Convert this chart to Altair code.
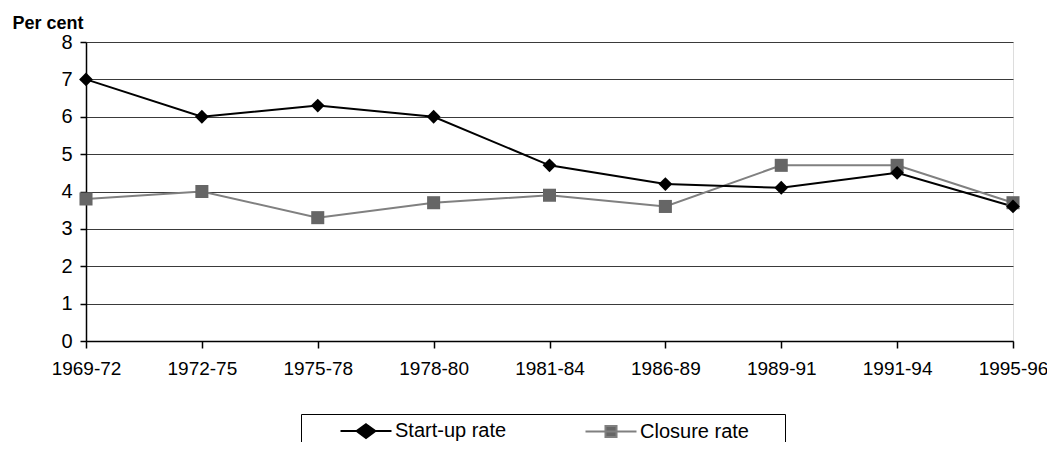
import altair as alt
import pandas as pd

periods = ["1969-72", "1972-75", "1975-78", "1978-80", "1981-84",
           "1986-89", "1989-91", "1991-94", "1995-96"]
startup = [7.0, 6.0, 6.3, 6.0, 4.7, 4.2, 4.1, 4.5, 3.6]
closure = [3.8, 4.0, 3.3, 3.7, 3.9, 3.6, 4.7, 4.7, 3.7]
series_names = ["Start-up rate", "Closure rate"]
y_ticks = [0, 1, 2, 3, 4, 5, 6, 7, 8]

rows = []
for p, s, c in zip(periods, startup, closure):
    rows.append({"period": p, "series": series_names[0], "value": s})
    rows.append({"period": p, "series": series_names[1], "value": c})
df = pd.DataFrame(rows)

FONT = "Liberation Sans"

x_enc = alt.X("period:N", sort=periods,
              scale=alt.Scale(type="point", padding=0),
              axis=alt.Axis(title=None, labelAngle=0, grid=False,
                            domainColor="black", domainWidth=1.5,
                            tickColor="black", tickSize=7, tickWidth=1.5,
                            labelFontSize=19, labelColor="black",
                            labelPadding=11, labelFont=FONT))
y_enc = alt.Y("value:Q",
              scale=alt.Scale(domain=[0, 8], nice=False, zero=True),
              axis=alt.Axis(values=y_ticks, title="Per cent", titleAngle=0,
                            titleAlign="left", titleBaseline="alphabetic",
                            titleX=-74, titleY=-14, titleFont=FONT,
                            titleFontSize=18, titleFontWeight="bold",
                            titleColor="black",
                            grid=True, gridColor="#3a3a3a", gridWidth=1,
                            domainColor="black", domainWidth=1.5,
                            tickColor="black", tickSize=6, tickWidth=1.5,
                            labelFontSize=20, labelColor="black",
                            labelPadding=8, labelFont=FONT))

base = alt.Chart(df).encode(x=x_enc, y=y_enc)

closure_line = base.transform_filter(alt.datum.series == series_names[1]).mark_line(
    color="#808080", strokeWidth=2)
closure_pts = base.transform_filter(alt.datum.series == series_names[1]).mark_point(
    shape="square", filled=True, color="#666666", size=170, opacity=1)
startup_line = base.transform_filter(alt.datum.series == series_names[0]).mark_line(
    color="black", strokeWidth=2)
startup_pts = base.transform_filter(alt.datum.series == series_names[0]).mark_point(
    shape="diamond", filled=True, color="black", size=190, opacity=1)

legend_paths = ["M-3,0H3M0,-0.8L1.1,0L0,0.8L-1.1,0Z",
                "M-3,0H3M-0.65,-0.65H0.65V0.65H-0.65Z"]

legend_common = dict(symbolOpacity=1, symbolFillColor="#000000")

legend_layer = base.mark_point(opacity=0, filled=True).encode(
    shape=alt.Shape("series:N", scale=alt.Scale(domain=series_names, range=legend_paths),
                    legend=alt.Legend(title="\u00a0", titleOrient="right",
                                      titleFontSize=4, titlePadding=29,
                                      orient="none", legendX=215, legendY=372,
                                      direction="horizontal", columns=2,
                                      strokeColor="black", padding=7,
                                      symbolSize=289, symbolStrokeWidth=2,
                                      symbolOffset=48, labelOffset=19,
                                      columnPadding=46,
                                      labelFontSize=20, labelFont=FONT,
                                      labelColor="black",
                                      **legend_common)),
    color=alt.Color("series:N", scale=alt.Scale(domain=series_names, range=["black", "#666666"]),
                    legend=alt.Legend(title="\u00a0", **legend_common)),
    stroke=alt.Stroke("series:N", scale=alt.Scale(domain=series_names, range=["black", "#808080"]),
                      legend=alt.Legend(title="\u00a0", **legend_common)),
)

chart = alt.layer(closure_line, startup_line, closure_pts, startup_pts, legend_layer).properties(
    width=927, height=299,
    autosize=alt.AutoSizeParams(type="none"),
    padding={"left": 78, "top": 34, "right": 34, "bottom": 101},
).configure_view(stroke="#8c8c8c", strokeWidth=2).configure(background="white")

chart.save("out.html", embed_options={"renderer": "svg", "actions": False})
